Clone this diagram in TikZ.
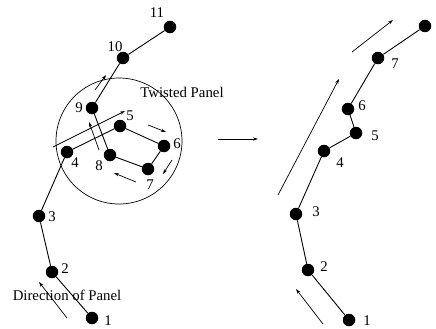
\documentclass[tikz,border=0pt]{standalone}
\usepackage{fontspec}
\setmainfont{Liberation Serif}
\usetikzlibrary{arrows.meta}
\begin{document}
\begin{tikzpicture}[x=1pt,y=-1pt,
  dot/.style={circle,fill=black,inner sep=0pt,minimum size=12.5pt},
  lab/.style={font=\fontsize{14.8}{15}\selectfont,inner sep=0pt},
  link/.style={line width=0.9pt},
  arr/.style={line width=0.7pt,-{Stealth[length=5pt,width=3.2pt]}}]
\useasboundingbox (0,0) rectangle (436,329);
% left chain
\node[dot] (a1) at (92,318) {};
\node[dot] (a2) at (52,272) {};
\node[dot] (a3) at (39,216) {};
\node[dot] (a4) at (67,152) {};
\node[dot] (a5) at (120,126) {};
\node[dot] (a6) at (164,146) {};
\node[dot] (a7) at (148,169) {};
\node[dot] (a8) at (110,155) {};
\node[dot] (a9) at (92,108) {};
\node[dot] (a10) at (123,58) {};
\node[dot] (a11) at (170,27) {};
\draw[link] (a1)--(a2)--(a3)--(a4)--(a5)--(a6)--(a7)--(a8)--(a9)--(a10)--(a11);
\node[lab] (la1) at (108,321) {1};
\node[lab] (la2) at (65,269) {2};
\node[lab] (la3) at (52,217) {3};
\node[lab] (la4) at (75,163) {4};
\node[lab] (la5) at (130,116) {5};
\node[lab] (la6) at (177,144) {6};
\node[lab] (la7) at (150,185) {7};
\node[lab] (la8) at (99,166) {8};
\node[lab] (la9) at (79,108) {9};
\node[lab] (la10) at (115,47) {10};
\node[lab] (la11) at (157,13) {11};
\node[draw,circle,line width=0.7pt,minimum size=126pt,inner sep=0pt] (ring) at (119,141) {};
\node[lab] (tw) at (182,92) {Twisted Panel};
\node[lab] (dir) at (67,295) {Direction of Panel};
\coordinate (p1s) at (53,147); \coordinate (p1e) at (125,111);
\coordinate (p2s) at (95,90); \coordinate (p2e) at (106,75);
\coordinate (p3s) at (99,150); \coordinate (p3e) at (89,122);
\coordinate (p4s) at (148,125); \coordinate (p4e) at (166,132);
\coordinate (p5s) at (172,160); \coordinate (p5e) at (163,174);
\coordinate (p6s) at (136,182); \coordinate (p6e) at (114,173);
\coordinate (p7s) at (67,318); \coordinate (p7e) at (39,282);
\foreach \i in {1,...,7} {\draw[arr] (p\i s)--(p\i e);}
% middle arrow
\coordinate (ms) at (218,139); \coordinate (me) at (258,139);
\draw[arr] (ms)--(me);
% right chain
\node[dot] (b1) at (349,320) {};
\node[dot] (b2) at (308,270) {};
\node[dot] (b3) at (296,214) {};
\node[dot] (b4) at (324,151) {};
\node[dot] (b5) at (356,133) {};
\node[dot] (b6) at (348,109) {};
\node[dot] (b7) at (378,58) {};
\node[dot] (b8) at (425,26) {};
\draw[link] (b1)--(b2)--(b3)--(b4)--(b5)--(b6)--(b7)--(b8);
\node[lab] (lb1) at (367,321) {1};
\node[lab] (lb2) at (324,267) {2};
\node[lab] (lb3) at (316,212) {3};
\node[lab] (lb4) at (340,163) {4};
\node[lab] (lb5) at (375,136) {5};
\node[lab] (lb6) at (362,106) {6};
\node[lab] (lb7) at (395,64) {7};
\coordinate (q1s) at (278,195); \coordinate (q1e) at (339,79);
\coordinate (q2s) at (352,52); \coordinate (q2e) at (393,20);
\coordinate (q3s) at (323,324); \coordinate (q3e) at (296,289);
\foreach \i in {1,2,3} {\draw[arr] (q\i s)--(q\i e);}
\end{tikzpicture}
\end{document}
